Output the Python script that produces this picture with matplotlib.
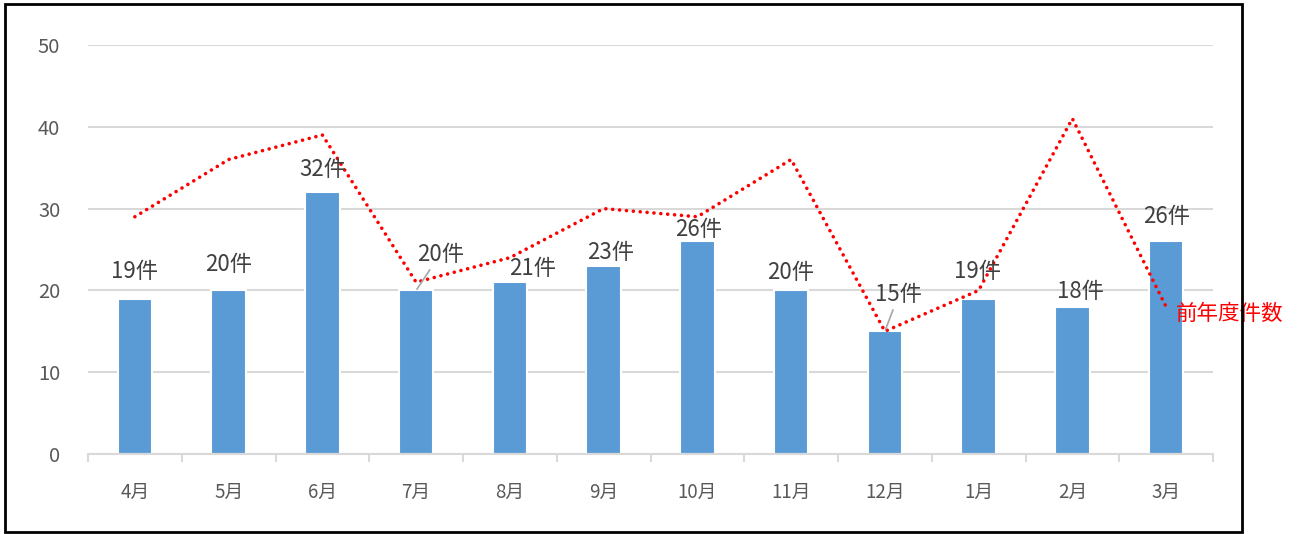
import matplotlib
matplotlib.use("Agg")
import matplotlib.pyplot as plt
from matplotlib.patches import Rectangle
import numpy as np

plt.rcParams['font.family'] = ['Noto Sans CJK JP', 'DejaVu Sans']

# data
months = ['4月', '5月', '6月', '7月', '8月', '9月', '10月', '11月', '12月', '1月', '2月', '3月']
counts = [19, 20, 32, 20, 21, 23, 26, 20, 15, 19, 18, 26]
prev_counts = [29, 36, 39, 21, 24, 30, 29, 36, 15, 20, 41, 18]
count_labels = [f'{v}件' for v in counts]
line_name = '前年度件数'

# label offsets from bar top (pixels: dx, dy up), leader line flag
label_offsets = [(0, 27), (0, 26), (0, 23), (24, 36), (23, 14), (7, 13),
                 (1, 12), (-1, 18), (14, 37), (-1, 27), (8, 15), (0, 25)]
leaders = [False, False, False, True, False, False, False, False, True, False, False, False]

bar_color = '#5b9bd5'
grid_color = '#d9d9d9'
text_color = '#595959'
px = 0.72  # points per pixel at 100 dpi

fig = plt.figure(figsize=(13, 5.34), dpi=100)
fig.patches.append(Rectangle((5 / 1300, 2 / 534), 1237 / 1300, 528 / 534,
                             transform=fig.transFigure, fill=False,
                             edgecolor='black', linewidth=2))

ax = fig.add_axes([88 / 1300, 80 / 534, 1125 / 1300, 409 / 534])
x = np.arange(len(months))

ax.bar(x, counts, width=0.37, color=bar_color, edgecolor='white', linewidth=1.5, zorder=2)
ax.plot(x, prev_counts, color='red', linewidth=2.6, linestyle=(0, (0.01, 1.9)),
        dash_capstyle='round', zorder=3)

for i, (v, lab) in enumerate(zip(counts, count_labels)):
    dx, dy = label_offsets[i]
    arrow = None
    if leaders[i]:
        arrow = dict(arrowstyle='-', color='#a6a6a6', lw=1.2, shrinkA=1, shrinkB=1)
    ax.annotate(lab, xy=(x[i], v), xytext=(dx * px, dy * px), textcoords='offset points',
                ha='center', va='center', fontsize=16, color='#404040',
                arrowprops=arrow, zorder=4)

ax.annotate(line_name, xy=(x[-1], prev_counts[-1]), xytext=(10 * px, -7 * px),
            textcoords='offset points', ha='left', va='center', fontsize=15.5, color='red')

ax.set_xlim(-0.5, len(months) - 0.5)
ax.set_ylim(0, 50)
ax.set_yticks([0, 10, 20, 30, 40, 50])
ax.yaxis.grid(True, color=grid_color, linewidth=1.5, zorder=0)
ax.set_axisbelow(True)
for s in ['top', 'right', 'left']:
    ax.spines[s].set_visible(False)
ax.spines['bottom'].set_color(grid_color)
ax.spines['bottom'].set_linewidth(1.5)

ax.set_xticks(x)
ax.set_xticklabels(months)
ax.set_xticks(np.arange(-0.5, len(months)), minor=True)
ax.tick_params(axis='x', which='major', length=0, pad=20, labelsize=13.5, labelcolor=text_color)
ax.tick_params(axis='x', which='minor', length=6, width=1.5, color=grid_color)
ax.tick_params(axis='y', length=0, pad=20, labelsize=14.5, labelcolor=text_color)

fig.savefig('out.png', dpi=100)
